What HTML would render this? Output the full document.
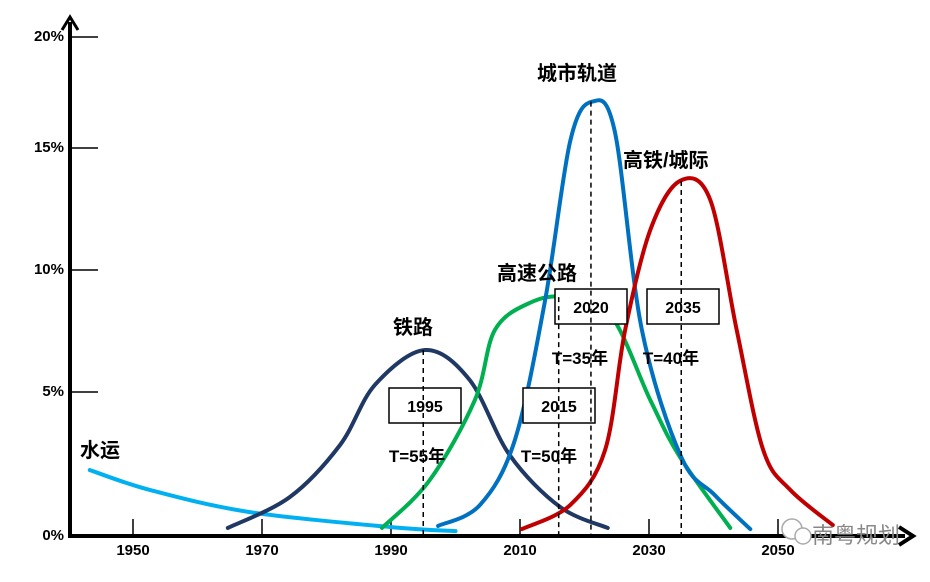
<!DOCTYPE html>
<html><head><meta charset="utf-8"><style>
body{margin:0;background:#fff;}
svg text{font-family:"Liberation Sans","Noto Sans CJK SC",sans-serif;font-weight:bold;}
</style></head><body>
<svg id="chart" width="930" height="577" viewBox="0 0 930 577" xmlns="http://www.w3.org/2000/svg">
<g id="axes"></g>
<g id="marks"></g>
<g id="annot"></g>
<g>
<circle cx="792" cy="529" r="10" fill="#fff" stroke="#aaa" stroke-width="1.5"/>
<circle cx="803" cy="536" r="8" fill="#fff" stroke="#aaa" stroke-width="1.5"/>
<text x="812" y="543" font-size="22" fill="#888" style="font-weight:normal">南粤规划</text>
</g>
</svg>
<script>
const yTicks=[0,5,10,15,20];
const yTickLabels=["0%","5%","10%","15%","20%"];
const xTicks=[1950,1970,1990,2010,2030,2050];
const waterYears=[1943.3,1952.6,1968.1,1990,2000];
const waterVals=[2.29,1.6,0.83,0.31,0.17];
const railYears=[1964.7,1974.3,1982.1,1987.5,1995.3,2002.2,2008.4,2016.2,2023.6];
const railVals=[0.28,1.35,3.16,5.29,6.72,5.49,2.81,1.01,0.28];
const hwYears=[1988.6,1996,2003,2006.1,2011.5,2017,2024,2030.2,2034.8,2042.6];
const hwVals=[0.28,1.94,4.72,7.54,8.65,8.89,8.16,4.72,2.74,0.28];
const urbYears=[1997.3,2003.8,2009.2,2013.9,2017.8,2021.2,2024.7,2028.9,2035,2040.2,2045.7];
const urbVals=[0.35,1.08,3.33,8.77,15.33,17.09,15.74,7.54,2.74,1.42,0.24];
const hsrYears=[2010.3,2017.8,2023.2,2026.3,2030.2,2034.8,2039.5,2043.6,2047.7,2051.9,2058.5];
const hsrVals=[0.24,1.08,2.99,7.54,11.64,13.65,12.87,7.54,2.99,1.6,0.38];
const peakYears=[1995,2016,2021,2035];
const peakVals=[6.72,8.89,17.09,13.65];
const boxLabels=["1995","2015","2020","2035"];
const periodLabels=["T=55年","T=50年","T=35年","T=40年"];

const tickPx=[536,392,270,148,37];
const X=y=>133+(y-1950)*6.45;
const Y=v=>{for(let i=0;i<yTicks.length-1;i++){if(v<=yTicks[i+1]||i===yTicks.length-2){const f=(v-yTicks[i])/(yTicks[i+1]-yTicks[i]);return tickPx[i]+f*(tickPx[i+1]-tickPx[i]);}}};
const NS="http://www.w3.org/2000/svg";
function mk(tag,attrs,parent){const e=document.createElementNS(NS,tag);for(const k in attrs)e.setAttribute(k,attrs[k]);parent.appendChild(e);return e;}
const axes=document.getElementById('axes'),marks=document.getElementById('marks'),annot=document.getElementById('annot');

let el=mk('line',{x1:70,y1:538,x2:70,y2:22,stroke:'#000','stroke-width':4},axes);


el=mk('path',{d:'M62,30 L70,17 L78,30',fill:'none',stroke:'#000','stroke-width':3},axes);


el=mk('line',{x1:68,y1:536,x2:905,y2:536,stroke:'#000','stroke-width':4},axes);


el=mk('path',{d:'M899,527 L913,536 L899,545',fill:'none',stroke:'#000','stroke-width':4},axes);


yTicks.forEach((t,i)=>{
 if(t>0){const l=mk('line',{x1:70,y1:Y(t),x2:98,y2:Y(t),stroke:'#000','stroke-width':1.5},axes);
 
 }
 const tx=mk('text',{x:64,y:Y(t)+4,'font-size':15,'text-anchor':'end'},axes);tx.textContent=yTickLabels[i];
 
 
});
xTicks.forEach(t=>{
 const l=mk('line',{x1:X(t),y1:519,x2:X(t),y2:536,stroke:'#000','stroke-width':1.5},axes);
 
 
 const tx=mk('text',{x:X(t),y:555,'font-size':15,'text-anchor':'middle'},axes);tx.textContent=t;
 
 
});
function smooth(xs,vs){const p=xs.map((x,i)=>[X(x),Y(vs[i])]);let d='M'+p[0][0]+','+p[0][1];
 for(let i=0;i<p.length-1;i++){const p0=p[i-1]||p[i],p1=p[i],p2=p[i+1],p3=p[i+2]||p2;
 d+=` C${p1[0]+(p2[0]-p0[0])/6},${p1[1]+(p2[1]-p0[1])/6} ${p2[0]-(p3[0]-p1[0])/6},${p2[1]-(p3[1]-p1[1])/6} ${p2[0]},${p2[1]}`;}return d;}
const series=[[waterYears,waterVals,'#00b0f0','water-transport-curve'],[railYears,railVals,'#203864','railway-curve'],[hwYears,hwVals,'#00b050','highway-curve'],[urbYears,urbVals,'#0070c0','urban-rail-curve'],[hsrYears,hsrVals,'#c00000','hsr-curve']];
series.forEach(s=>{const p=mk('path',{d:smooth(s[0],s[1]),fill:'none',stroke:s[2],'stroke-width':4,'stroke-linecap':'round'},marks);
 
 });
const boxPos=[[389,388],[523,388],[555,289],[647,289]];
boxLabels.forEach((b,i)=>{const r=mk('rect',{x:boxPos[i][0],y:boxPos[i][1],width:72,height:35,fill:'#fff',stroke:'#000','stroke-width':1.5},annot);
 
 
 const t=mk('text',{x:boxPos[i][0]+36,y:boxPos[i][1]+24,'font-size':16,'text-anchor':'middle'},annot);t.textContent=b;
 
 });
peakYears.forEach((y,i)=>{const l=mk('line',{x1:X(y),y1:Y(peakVals[i]),x2:X(y),y2:536,stroke:'#000','stroke-width':1.5,'stroke-dasharray':'5,4'},annot);
 
 });
const periodPos=[[417,462],[549,462],[580,364],[671,364]];
periodLabels.forEach((p,i)=>{const t=mk('text',{x:periodPos[i][0],y:periodPos[i][1],'font-size':17,'text-anchor':'middle'},annot);t.textContent=p;
 
 });
const names=[["水运",80,457],["铁路",393,334],["高速公路",497,280],["城市轨道",537,80],["高铁/城际",623,167]];
names.forEach(n=>{const t=mk('text',{x:n[1],y:n[2],'font-size':20},annot);t.textContent=n[0];
 
 });
</script>
</body></html>
